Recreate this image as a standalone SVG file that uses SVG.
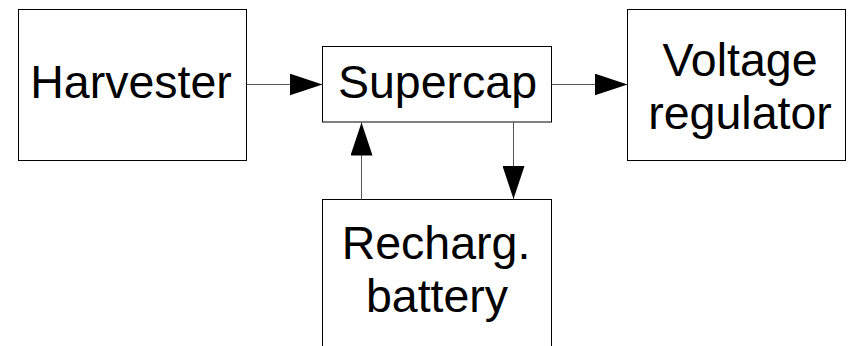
<svg xmlns="http://www.w3.org/2000/svg" width="848" height="346" viewBox="0 0 848 346">
<defs>
<style>
.box{fill:#fff;stroke:#000;stroke-width:1}
.lbl{font-family:"Liberation Sans",Arial,sans-serif;font-size:46.5px;fill:#000;text-anchor:middle}
.conn{fill:none;stroke:#555;stroke-width:1}
</style>
<marker id="arr" markerUnits="userSpaceOnUse" markerWidth="33" markerHeight="22" refX="33" refY="11" orient="auto">
<path d="M0,0 L33,11 L0,22 z" fill="#000"/>
</marker>
</defs>
<rect width="848" height="346" fill="#fff"/>
<g id="harvester">
<rect class="box" x="18.5" y="9.5" width="228" height="151"/>
<text class="lbl" x="131" y="98">Harvester</text>
</g>
<g id="supercap">
<rect class="box" x="322.5" y="46.5" width="229" height="75.5"/>
<text class="lbl" x="437.5" y="97.5">Supercap</text>
</g>
<g id="regulator">
<rect class="box" x="627.5" y="9.5" width="218" height="151"/>
<text class="lbl" x="740" y="76">Voltage</text>
<text class="lbl" x="740" y="129">regulator</text>
</g>
<g id="battery">
<rect class="box" x="322.5" y="199.5" width="229" height="160"/>
<text class="lbl" x="436" y="259">Recharg.</text>
<text class="lbl" x="437" y="312">battery</text>
</g>
<g id="connectors">
<path class="conn" d="M246.5,84.5 H322.5" marker-end="url(#arr)"/>
<path class="conn" d="M551.5,84.5 H627.5" marker-end="url(#arr)"/>
<path class="conn" d="M361.5,199.5 V122.5" marker-end="url(#arr)"/>
<path class="conn" d="M513.5,122.5 V199" marker-end="url(#arr)"/>
</g>
</svg>
